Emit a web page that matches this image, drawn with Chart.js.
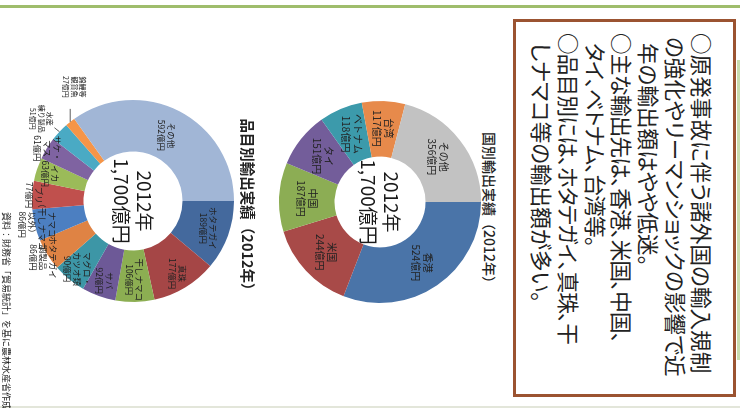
<!DOCTYPE html>
<html lang="ja">
<head>
<meta charset="utf-8">
<title>水産物輸出実績（2012年）</title>
<script src="https://cdn.jsdelivr.net/npm/chart.js@4.4.1/dist/chart.umd.min.js"></script>
<style>
html, body { margin: 0; padding: 0; background: #fff; width: 740px; height: 408px; overflow: hidden; }
/* the slide is laid out upright (408 x 740) and turned a quarter clockwise */
#slide {
    position: absolute; left: 0; top: 0; width: 408px; height: 740px;
    transform-origin: 0 0; transform: translate(740px, 0) rotate(90deg);
    font-family: "Noto Sans CJK JP", "Noto Sans", sans-serif; color: #222; overflow: hidden;
}
.rule-green { position: absolute; left: 5px; top: 0; width: 3px; height: 740px; background: #9fbd6c; }
.rule-gray { position: absolute; left: 406px; top: 0; width: 2px; height: 740px; background: #e3e6da; }
.rule-light { position: absolute; left: 60px; top: 0; width: 300px; height: 3px; background: #c9dcad; }
.note {
    position: absolute; left: 19px; top: 4px; width: 372px; height: 217px;
    border: 3px solid #9b5331; background: #fff; overflow: hidden;
}
.note .lines { position: absolute; left: 11px; top: 17.5px; font-size: 21.6px; line-height: 26.7px; white-space: nowrap; font-feature-settings: "palt"; }
.note .lines div { height: 26.7px; }
.note .cont { padding-left: 10px; }
.note .cont.near { padding-left: 4px; }
.note .tight { letter-spacing: -0.8px; }
.title { position: absolute; width: 220px; text-align: center; font-size: 14px; line-height: 20px; white-space: nowrap; }
.title.country { left: 101px; top: 240px; font-weight: 500; }
.title.product { left: 98px; top: 482px; font-weight: 700; font-size: 14.5px; }
.source { position: absolute; left: 212px; top: 727px; font-size: 9px; line-height: 14px; white-space: nowrap; }
canvas { position: absolute; }
#countryChart { left: 52px; top: 210px; }
#productChart { left: 41px; top: 447px; }
</style>
</head>
<body>
<div id="slide">
    <div class="rule-green"></div>
    <div class="rule-gray"></div>
    <div class="rule-light"></div>
    <div class="note">
        <div class="lines">
            <div>○原発事故に伴う諸外国の輸入規制</div>
            <div class="cont near">の強化やリーマンショックの影響で近</div>
            <div class="cont">年の輸出額はやや低迷。</div>
            <div class="tight">○主な輸出先は、香港、米国、中国、</div>
            <div class="cont tight">タイ、ベトナム、台湾等。</div>
            <div class="tight">○品目別には、ホタテガイ、真珠、干</div>
            <div class="cont">しナマコ等の輸出額が多い。</div>
        </div>
    </div>
    <div class="title country">国別輸出実績（2012年）</div>
    <canvas id="countryChart" width="300" height="300"></canvas>
    <div class="title product">品目別輸出実績（2012年）</div>
    <canvas id="productChart" width="320" height="320"></canvas>
    <div class="source">資料：財務省「貿易統計」を基に農林水産省作成</div>
</div>
<script>
// export values, 億円
const centerYear = '2012年';
const centerTotal = '1,700億円';

const countryNames = ['香港', '米国', '中国', 'タイ', 'ベトナム', '台湾', 'その他'];
const countryValues = [524, 244, 187, 151, 118, 117, 356];

const productNames = [
    'ホタテガイ', '真珠', '干しナマコ', 'サバ', ['マグロ・', 'カツオ類'],
    ['ホタテガイ', '調製品'], ['ナマコ', '（干しナマコ', '以外）'], 'ブリ', 'イカ',
    ['サケ・', 'マス'], ['水産', '練り製品'], ['錦鯉等', '観賞魚'], 'その他'
];
const productValues = [189, 177, 106, 92, 90, 86, 86, 77, 63, 61, 51, 27, 592];

const countryColors = ['#4a74a8', '#a84a48', '#8cad54', '#735d9a', '#3c9aab', '#e78a4b', '#c2c2c2'];
const productColors = ['#44699d', '#a54646', '#8cae52', '#6d5997', '#3d96a6', '#df8344',
    '#4c7fc1', '#c0504d', '#9bbb59', '#7f63a1', '#4aaac4', '#f59548', '#a1b6d6'];

// slice captions + the year/total in the hole
const sliceLabels = {
    id: 'sliceLabels',
    afterDatasetsDraw(chart, args, opts) {
        const ctx = chart.ctx;
        const arcs = chart.getDatasetMeta(0).data;
        const values = chart.data.datasets[0].data;
        const family = '"Noto Sans CJK JP", sans-serif';
        ctx.save();
        ctx.fillStyle = '#222';
        ctx.strokeStyle = '#333';
        ctx.lineWidth = 0.8;
        ctx.textAlign = 'center';
        ctx.textBaseline = 'middle';

        arcs.forEach((arc, i) => {
            const p = arc.getProps(['x', 'y', 'startAngle', 'endAngle', 'outerRadius'], true);
            const mid = (p.startAngle + p.endAngle) / 2;
            const name = chart.data.labels[i];
            const lines = (Array.isArray(name) ? name : [name]).concat(values[i] + '億円');
            let cx, cy, size = opts.size, lh = opts.lineHeight;
            const lead = opts.leaders && opts.leaders[i];
            if (lead) {
                const ex = p.x + Math.cos(mid) * p.outerRadius;
                const ey = p.y + Math.sin(mid) * p.outerRadius;
                ctx.beginPath();
                ctx.moveTo(ex, ey);
                ctx.lineTo(ex + lead.lx, ey + lead.ly);
                ctx.stroke();
                cx = ex + lead.dx;
                cy = ey + lead.dy;
                size = opts.smallSize;
                lh = opts.smallLineHeight;
            } else {
                const r = p.outerRadius * opts.radius[i];
                cx = p.x + Math.cos(mid) * r;
                cy = p.y + Math.sin(mid) * r;
            }
            ctx.font = `${size}px ${family}`;
            const top = cy - (lines.length - 1) * lh / 2;
            lines.forEach((t, k) => ctx.fillText(t, cx, top + k * lh));
        });

        const c = arcs[0].getProps(['x', 'y'], true);
        ctx.font = `19px ${family}`;
        ctx.fillStyle = '#1a1a1a';
        ctx.fillText(centerYear, c.x, c.y - 11);
        ctx.fillText(centerTotal, c.x, c.y + 12);
        ctx.restore();
    }
};

function doughnut(id, labels, values, colors, cutout, padding, labelOpts) {
    return new Chart(document.getElementById(id), {
        type: 'doughnut',
        data: {
            labels: labels,
            datasets: [{
                data: values,
                backgroundColor: colors,
                borderWidth: 0,
            }]
        },
        options: {
            responsive: false,
            animation: false,
            cutout: cutout,
            layout: { padding: padding },
            plugins: {
                legend: { display: false },
                tooltip: { enabled: false },
                sliceLabels: labelOpts,
            }
        },
        plugins: [sliceLabels]
    });
}

const countryChart = doughnut('countryChart', countryNames, countryValues, countryColors, '45%', 49, {
    size: 10,
    lineHeight: 12,
    radius: countryValues.map(() => 0.73),
});

const productChart = doughnut('productChart', productNames, productValues, productColors, '49%', 59, {
    size: 8.5,
    lineHeight: 10,
    smallSize: 7,
    smallLineHeight: 8.5,
    radius: [0.79, 0.84, 0.78, 0.84, 0.87, 1.05, 0.98, 0.98, 0.86, 1.0, 1.1, 1.3, 0.73],
    leaders: {
        10: { lx: -4, ly: 5, dx: -13, dy: 18 },
        11: { lx: -13, ly: 0, dx: -35, dy: -4 },
    },
});
</script>
</body>
</html>
